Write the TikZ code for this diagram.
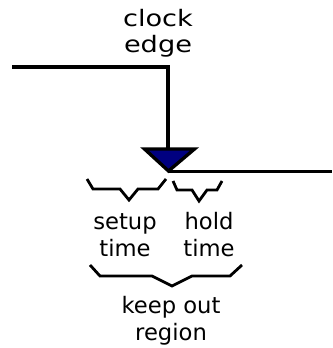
\documentclass[tikz,border=0pt]{standalone}
\usepackage{fontspec}
\setmainfont{DejaVu Sans}
\newfontfamily\widesans{DejaVu Sans}[FakeStretch=1.2]
\usetikzlibrary{positioning}
\definecolor{edgefill}{RGB}{0,0,128}
\begin{document}
\begin{tikzpicture}[x=0.75pt,y=-0.75pt]
    % Define Styles
        \tikzstyle{textlabel} = [align=center, inner sep=0pt, anchor=base, font=\fontsize{17}{20}\selectfont]
        \tikzstyle{signal} = [draw, line width=2.4pt, line join=miter]
        \tikzstyle{brace} = [draw, line width=2.1pt, line join=miter]
        \tikzstyle{edgemark} = [draw, fill=edgefill, line width=2.5pt, line join=miter]
    \useasboundingbox (0,0) rectangle (332,348);
    % Place nodes
        \node [textlabel, font=\widesans\fontsize{17}{20}\selectfont] (clockedge) at (158,53) {clock\\edge};
        \node [textlabel] (setup) at (125,256) {setup\\time};
        \node [textlabel] (hold) at (209,256) {hold\\time};
        \node [textlabel] (keepout) at (171,340) {keep out\\region};
    % Clock signal
        \coordinate (low) at (12,67);
        \coordinate (rise) at (168,67);
        \coordinate (marktop) at (168,149);
        \coordinate (tip) at (168,171.5);
        \coordinate (high) at (332,171.5);
        \draw[signal] (low) -- (rise) -- (marktop);
        \draw[signal] (tip) -- (high);
        \draw[edgemark] (144.5,149) -- (194.5,149) -- (168.5,171) -- cycle;
    % Braces
        \draw[brace] (87,179) -- (93,189) -- (120,189) -- (129,200) -- (138,189) -- (158,189) -- (166,179);
        \draw[brace] (173,181) -- (177,190) -- (192,190) -- (199,201) -- (207,190) -- (217,190) -- (222,181);
        \draw[brace] (90,265) -- (100,276) -- (152,276) -- (172,286) -- (192,276) -- (230,276) -- (242,265);
\end{tikzpicture}
\end{document}
